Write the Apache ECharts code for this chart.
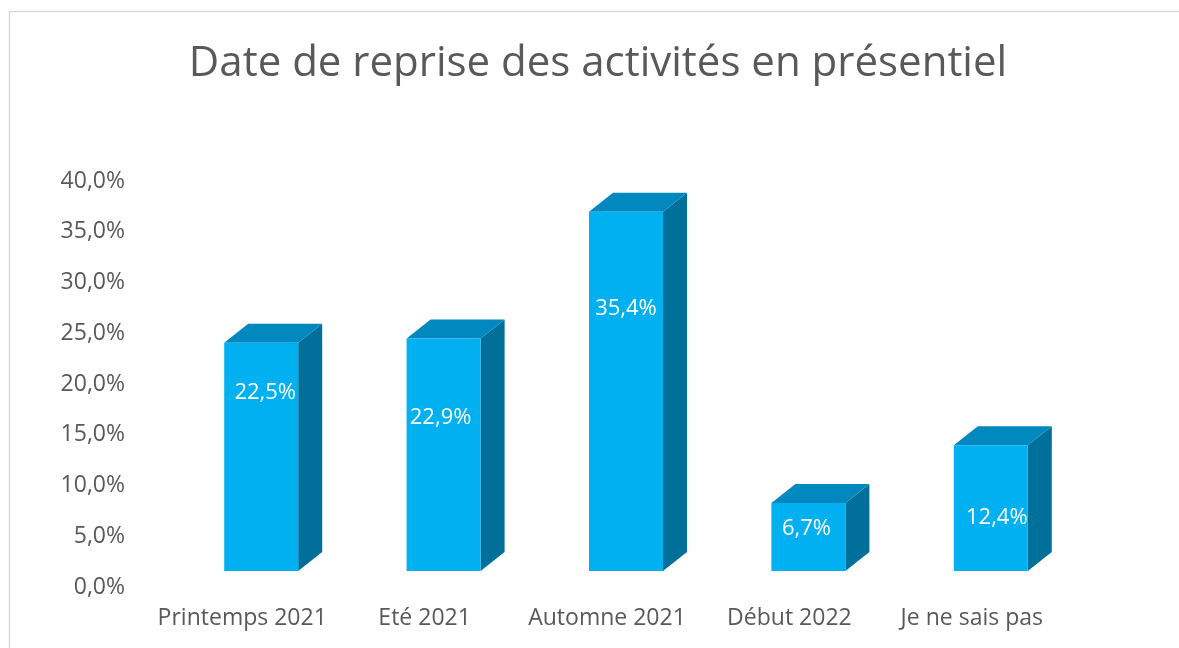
<!DOCTYPE html>
<html lang="fr">
<head>
    <meta charset="UTF-8">
    <title>Date de reprise des activités en présentiel</title>
    <script src="https://cdn.jsdelivr.net/npm/echarts@6/dist/echarts.min.js"></script>
    <style>
        html, body { margin: 0; padding: 0; background: #fff; }
        #main { width: 1179px; height: 648px; }
    </style>
</head>
<body>
    <div id="main"></div>
    <script>
        // données
        var titre = 'Date de reprise des activités en présentiel';
        var categories = ['Printemps 2021', 'Eté 2021', 'Automne 2021', 'Début 2022', 'Je ne sais pas'];
        var valeurs = [22.5, 22.9, 35.4, 6.7, 12.4];
        var axeMin = 0, axeMax = 40, axePas = 5;

        // style du faux 3D (façon Excel)
        var face = '#00B0F0', dessus = '#0088BF', cote = '#006F99';
        var largeur = 74, profX = 24, profY = 19, decalX = 19, leve = 16;
        // position des étiquettes dans la face avant (fraction de hauteur, décalage x)
        var etiqFrac = [0.78, 0.66, 0.73, 0.62, 0.42];
        var etiqDx = [4, -3, 0, -2, 6];

        var police = '"Open Sans", "Noto Sans", sans-serif';

        function pct(v) {
            return v.toFixed(1).replace('.', ',') + '%';
        }

        var chart = echarts.init(document.getElementById('main'));
        chart.setOption({
            animation: false,
            textStyle: { fontFamily: police },
            graphic: [
                {
                    type: 'rect',
                    shape: { x: 9.5, y: 11.5, width: 1300, height: 800 },
                    style: { fill: 'none', stroke: '#D9D9D9', lineWidth: 1.5 },
                    silent: true
                },
                {
                    type: 'text',
                    x: 598, y: 64,
                    style: {
                        text: titre,
                        fill: '#595959',
                        font: '400 42px ' + police,
                        textAlign: 'center',
                        textVerticalAlign: 'middle'
                    }
                }
            ],
            grid: { left: 151, right: 116, top: 181, bottom: 61 },
            xAxis: {
                type: 'category',
                data: categories,
                axisLine: { show: false },
                axisTick: { show: false },
                axisLabel: { color: '#595959', fontSize: 23, margin: 20, interval: 0 }
            },
            yAxis: {
                type: 'value',
                min: axeMin, max: axeMax, interval: axePas,
                axisLine: { show: false },
                axisTick: { show: false },
                splitLine: { show: false },
                axisLabel: {
                    color: '#595959', fontSize: 23, margin: 26,
                    formatter: function (v) { return pct(v); }
                }
            },
            series: [{
                type: 'custom',
                data: valeurs.map(function (v, i) { return [i, v]; }),
                renderItem: function (params, api) {
                    var i = api.value(0);
                    var bas = api.coord([i, 0]);
                    var haut = api.coord([i, api.value(1)]);
                    var x0 = bas[0] + decalX - largeur / 2;
                    var x1 = x0 + largeur;
                    var yb = bas[1] - leve;
                    var yt = haut[1] - leve;
                    var ly = yb - (yb - yt) * etiqFrac[i];
                    return {
                        type: 'group',
                        children: [
                            {
                                type: 'polygon',
                                shape: { points: [[x1, yt], [x1 + profX, yt - profY], [x1 + profX, yb - profY], [x1, yb]] },
                                style: { fill: cote }
                            },
                            {
                                type: 'polygon',
                                shape: { points: [[x0, yt], [x1, yt], [x1 + profX, yt - profY], [x0 + profX, yt - profY]] },
                                style: { fill: dessus }
                            },
                            {
                                type: 'rect',
                                shape: { x: x0, y: yt, width: largeur, height: yb - yt },
                                style: { fill: face }
                            },
                            {
                                type: 'text',
                                x: (x0 + x1) / 2 + etiqDx[i], y: ly,
                                style: {
                                    text: pct(api.value(1)),
                                    fill: '#fff',
                                    font: '22px ' + police,
                                    textAlign: 'center',
                                    textVerticalAlign: 'middle'
                                }
                            }
                        ]
                    };
                }
            }]
        });
    </script>
</body>
</html>
